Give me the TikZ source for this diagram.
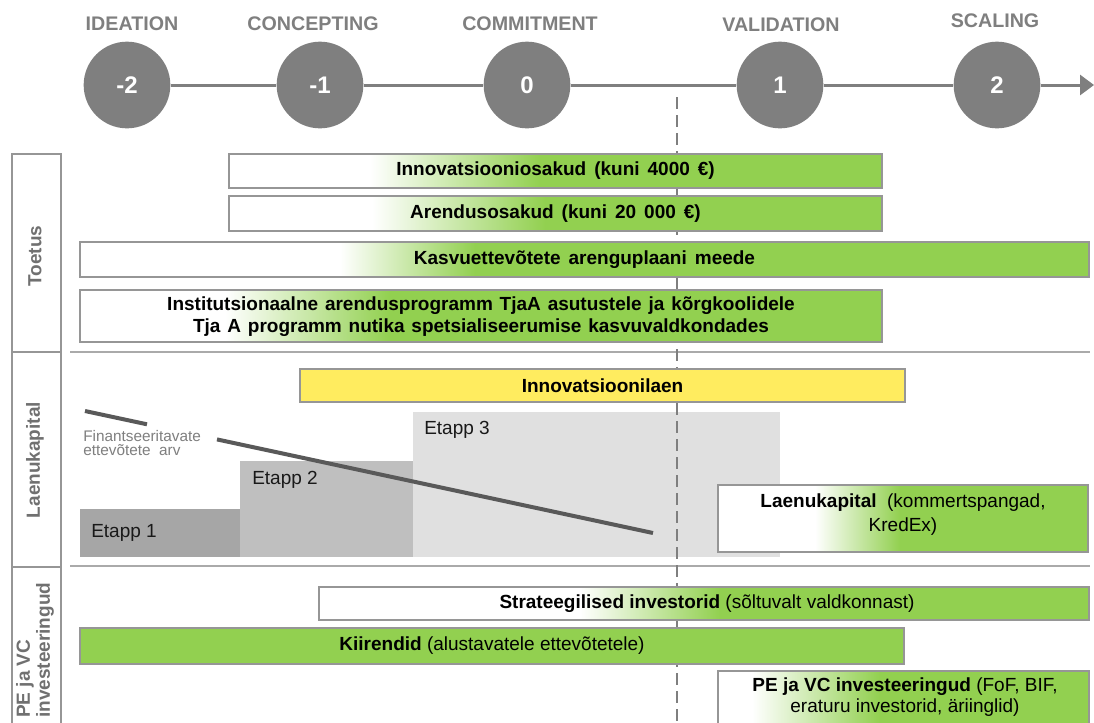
\documentclass[tikz,border=0pt]{standalone}
\usepackage{fontspec}
\setmainfont{Liberation Sans}
\usetikzlibrary{arrows.meta}
\definecolor{stagegray}{RGB}{127,127,127}
\definecolor{bargreen}{RGB}{146,208,80}
\definecolor{baryellow}{RGB}{255,236,95}
\definecolor{edgegray}{RGB}{150,150,150}
\definecolor{sepgray}{RGB}{170,170,170}
\definecolor{etappA}{RGB}{166,166,166}
\definecolor{etappB}{RGB}{191,191,191}
\definecolor{etappC}{RGB}{224,224,224}
\definecolor{trendgray}{RGB}{89,89,89}
\definecolor{labelgray}{RGB}{112,112,112}
\newcommand\widesp{\spaceskip 0.42em\relax}
\newcommand\midsp{\spaceskip 0.36em\relax}
\newcommand\gradbar[6]{%
  \fill[white] (#1,#2) rectangle (#5,#4);
  \shade[left color=white, right color=bargreen] (#5,#2) rectangle (#6,#4);
  \fill[bargreen] (#6,#2) rectangle (#3,#4);
  \draw[baredge] (#1,#2) rectangle (#3,#4);}
\begin{document}
\begin{tikzpicture}[x=0.75pt,y=-0.75pt,
  stagelbl/.style={font=\fontsize{14.75}{16}\selectfont\bfseries, text=stagegray, inner sep=0},
  stagecirc/.style={circle, fill=stagegray, minimum size=65pt, inner sep=0, text=white, font=\fontsize{18}{20}\selectfont\bfseries},
  timeline/.style={draw=stagegray, line width=2.25pt},
  baredge/.style={draw=edgegray, line width=0.8pt},
  bartext/.style={font={\fontsize{14.25}{16.5}\selectfont\bfseries\widesp}, text=black, align=center, inner sep=0},
  boxtext/.style={font=\fontsize{14.25}{18}\selectfont, text=black, align=center, inner sep=0},
  etext/.style={font=\fontsize{14.25}{16}\selectfont, text=black!90, anchor=west, inner sep=0},
  sidelbl/.style={rotate=90, font=\fontsize{14.25}{15}\selectfont\bfseries, text=labelgray, inner sep=0},
  sidebox/.style={draw=edgegray, line width=0.8pt},
  sepline/.style={draw=sepgray, line width=1.1pt},
  divider/.style={draw=stagegray, line width=1.9pt, dash pattern=on 9pt off 4.5pt},
  trend/.style={draw=trendgray, line width=3pt}]
\useasboundingbox (0,0) rectangle (1094,722);
\fill[white] (0,0) rectangle (1094,722);

% ---------- timeline ----------
\node[stagelbl] (lideation) at (132,24) {IDEATION};
\node[stagelbl] (lconcept) at (313,24) {CONCEPTING};
\node[stagelbl] (lcommit) at (530,24) {COMMITMENT};
\node[stagelbl] (lvalid) at (781,25) {VALIDATION};
\node[stagelbl] (lscale) at (995,21) {SCALING};
\node[stagecirc] (cm2) at (127,85) {-2};
\node[stagecirc] (cm1) at (320,85) {-1};
\node[stagecirc] (c0) at (527,85) {0};
\node[stagecirc] (c1) at (780,85) {1};
\node[stagecirc] (c2) at (997,85) {2};
\coordinate (tip) at (1094,85);
\draw[timeline] (cm2) -- (cm1);
\draw[timeline] (cm1) -- (c0);
\draw[timeline] (c0) -- (c1);
\draw[timeline] (c1) -- (c2);
\draw[timeline, -{Triangle[length=10.5pt,width=15pt]}] (c2) -- (tip);

% ---------- side column ----------
\draw[sidebox] (12,154) rectangle (61,352);
\draw[sidebox] (12,352) rectangle (61,567);
\draw[sidebox] (12,567) rectangle (61,740);
\node[sidelbl] (ltoetus) at (35,256) {Toetus};
\node[sidelbl] (llaen) at (35,460) {Laenukapital};
\node[sidelbl, anchor=west, align=left] (lpe) at (35,718) {PE ja VC\\investeeringud};
\draw[sepline] (70,352) -- (1090,352);
\draw[sepline] (70,566) -- (1090,566);

% ---------- Laenukapital stages ----------
\fill[etappC] (413,412) rectangle (780,557);
\fill[etappB] (240,461) rectangle (413,557);
\fill[etappA] (80,509) rectangle (240,557);
\node[etext] (e1) at (91,533) {Etapp 1};
\node[etext] (e2) at (252,480) {Etapp 2};
\node[etext] (e3) at (424,430) {Etapp 3};
\coordinate (fa) at (85,411);
\coordinate (fb) at (147,424.3);
\coordinate (fc) at (217,439.4);
\coordinate (fd) at (653,533);
\draw[trend] (fa) -- (fb);
\draw[trend] (fc) -- (fd);
\node[font=\fontsize{11.5}{10.8}\selectfont, text=stagegray, anchor=west, align=left, inner sep=0] (ftext) at (83,443) {Finantseeritavate\\ettevõtete\ \ arv};

% ---------- divider ----------
\coordinate (dtop) at (677,97);
\coordinate (dbot) at (677,722);
\draw[divider] (dtop) -- (dbot);

% ---------- Toetus bars ----------
\gradbar{229}{154}{882}{188}{370}{540}
\gradbar{229}{196}{882}{231}{372}{545}
\gradbar{80}{242}{1089}{277}{340}{475}
\gradbar{80}{290}{882}{342}{225}{390}
\node[bartext] (b1) at (555.5,171) {Innovatsiooniosakud (kuni 4000 €)};
\node[bartext] (b2) at (555.5,213.5) {Arendusosakud (kuni 20 000 €)};
\node[bartext] (b3) at (584.5,259.5) {Kasvuettevõtete arenguplaani meede};
\node[bartext, font={\fontsize{14.25}{16.5}\selectfont\bfseries\midsp}] (b4) at (481,317) {Institutsionaalne arendusprogramm TjaA asutustele ja kõrgkoolidele\\Tja A programm nutika spetsialiseerumise kasvuvaldkondades};

% ---------- Laenukapital bars ----------
\fill[baryellow] (300,369) rectangle (905,402);
\draw[baredge] (300,369) rectangle (905,402);
\node[bartext] (yl) at (602.5,385.5) {Innovatsioonilaen};
\gradbar{718}{485}{1088}{552}{815}{900}
\node[boxtext] (lk) at (903,515) {\textbf{Laenukapital}\ \ (kommertspangad,\\KredEx)};

% ---------- PE / VC bars ----------
\gradbar{319}{587}{1089}{620}{580}{720}
\fill[bargreen] (80,628) rectangle (904,664);
\draw[baredge] (80,628) rectangle (904,664);
\gradbar{718}{671}{1089}{740}{752}{880}
\node[boxtext] (sb) at (707,603.5) {\textbf{Strateegilised investorid} (sõltuvalt valdkonnast)};
\node[boxtext] (kb) at (492,646) {\textbf{Kiirendid} (alustavatele ettevõtetele)};
\node[boxtext, font=\fontsize{14.25}{15.5}\selectfont] (pb) at (905,697) {\textbf{PE ja VC investeeringud} (FoF, BIF,\\eraturu investorid, äriinglid)};
\end{tikzpicture}
\end{document}
